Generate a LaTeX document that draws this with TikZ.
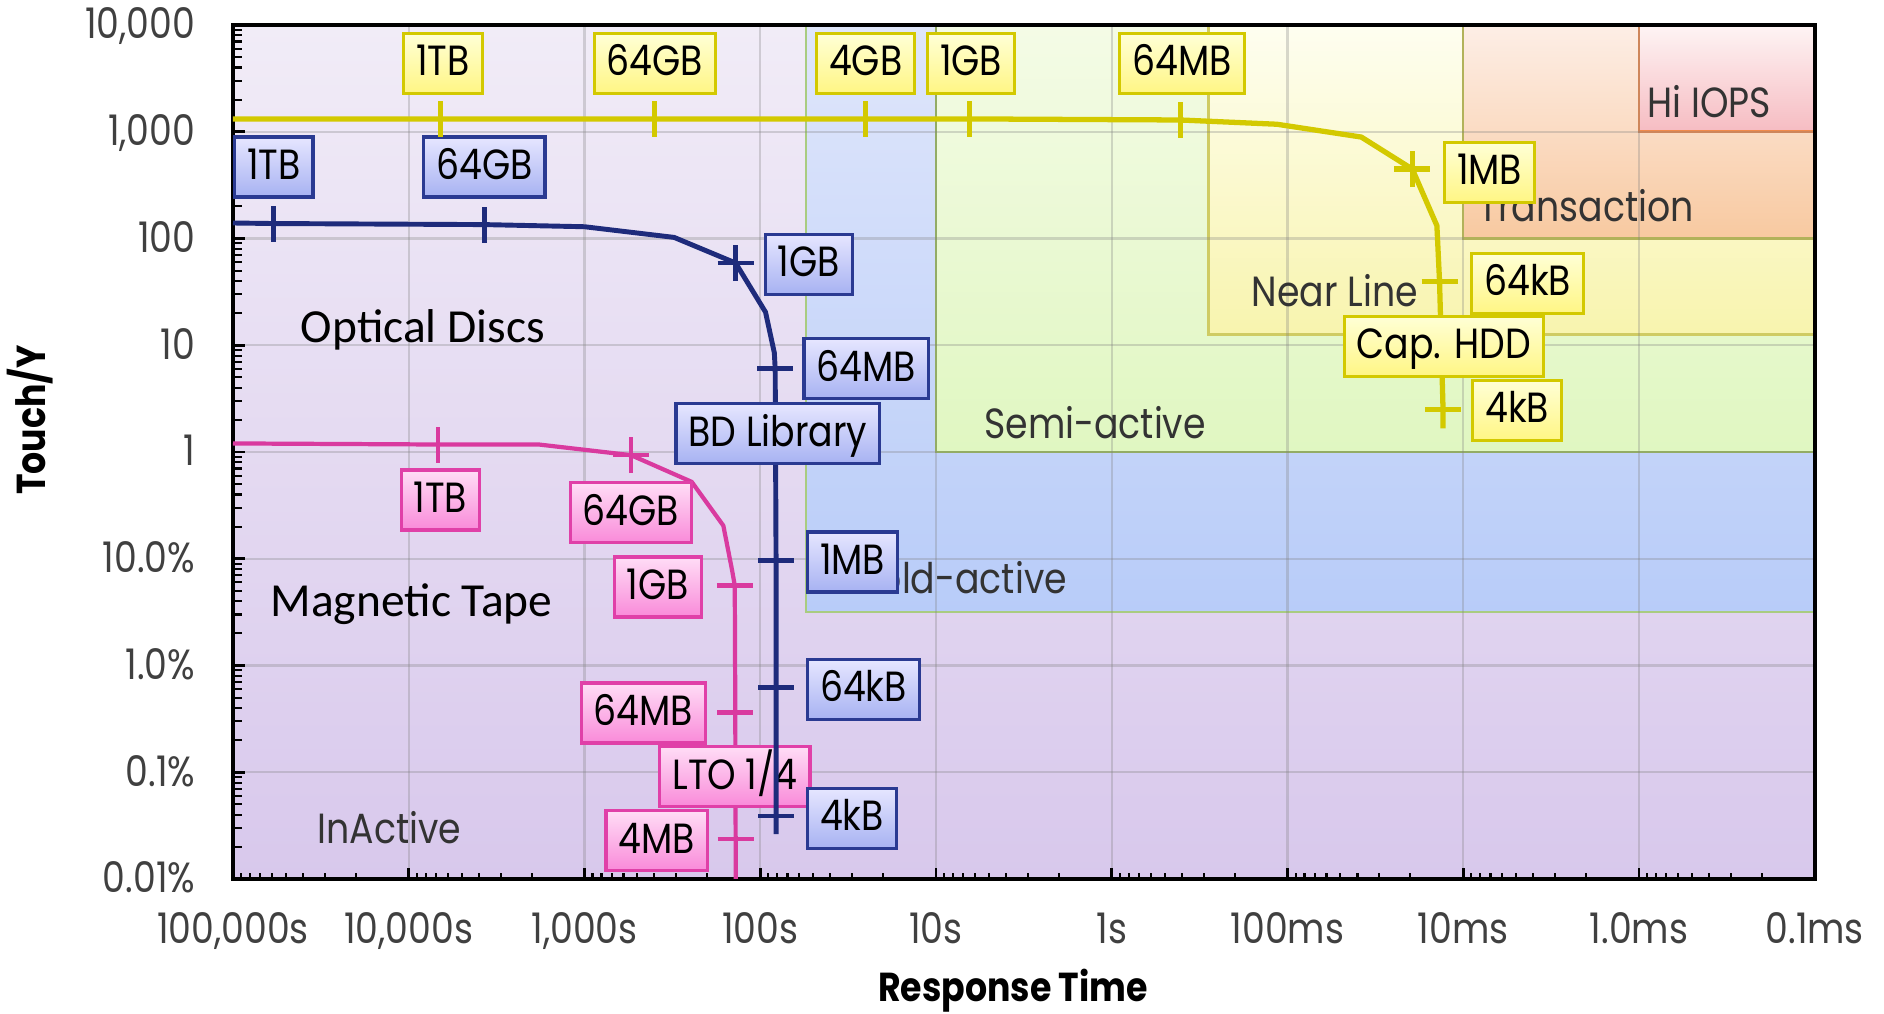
\documentclass[tikz,border=0pt]{standalone}
\usepackage{fontspec}
\setmainfont{Poppins}[FakeStretch=0.86]
\newfontfamily\mediafont{Carlito}
\usetikzlibrary{positioning}

\newcommand{\tagfont}{\fontsize{12}{14}\selectfont}
\newcommand{\zonefont}{\fontsize{12}{14}\selectfont}
\newcommand{\axisnumfont}{\fontsize{12}{14}\selectfont}

\definecolor{hddline}{HTML}{D3C900}
\definecolor{hddtop}{HTML}{FFFFD6}
\definecolor{hddbot}{HTML}{FFF684}
\definecolor{bdline}{HTML}{1E2B7B}
\definecolor{bdedge}{HTML}{2A3A92}
\definecolor{bdtop}{HTML}{E6E6FF}
\definecolor{bdbot}{HTML}{A7B2F2}
\definecolor{tapeline}{HTML}{D93A9F}
\definecolor{tapeedge}{HTML}{E040A8}
\definecolor{tapetop}{HTML}{FFDDF6}
\definecolor{tapebot}{HTML}{F98AD9}
\definecolor{inacttop}{HTML}{F1ECF7}
\definecolor{inactbot}{HTML}{D8C8EC}
\definecolor{coldtop}{HTML}{DFE6FA}
\definecolor{coldbot}{HTML}{B8CCF9}
\definecolor{coldedge}{HTML}{A9CC80}
\definecolor{semitop}{HTML}{F4FBE6}
\definecolor{semibot}{HTML}{E0F7C1}
\definecolor{semiedge}{HTML}{9CC05A}
\definecolor{neartop}{HTML}{FEFEF0}
\definecolor{nearbot}{HTML}{F8F4AE}
\definecolor{nearedge}{HTML}{CFCB63}
\definecolor{transtop}{HTML}{FDEEE6}
\definecolor{transbot}{HTML}{F8C9A0}
\definecolor{transedge}{HTML}{C9C94A}
\definecolor{iopstop}{HTML}{FEF4F4}
\definecolor{iopsbot}{HTML}{F6BCC2}
\definecolor{iopsedge}{HTML}{F08A4B}

\begin{document}
\begin{tikzpicture}[x=1.7575cm, y=1.0675cm,
  region/.style={line width=0.7pt},
  gridline/.style={draw=black!50, opacity=0.3, line width=0.6pt},
  zonelabel/.style={font=\zonefont, text=black!80, anchor=base},
  medialabel/.style={font=\mediafont\fontsize{13.5}{15}\selectfont, anchor=base},
  ticklabel/.style={font=\axisnumfont, text=black!75, text height=2.8mm, text depth=0pt, inner sep=0pt},
  tagbox/.style={rectangle, line width=0.9pt, font=\tagfont, text height=3.2mm, text depth=0.7mm, minimum height=6mm, inner xsep=1.25mm, inner ysep=0pt},
  hddbox/.style={tagbox, draw=hddline, top color=hddtop, bottom color=hddbot},
  bdbox/.style={tagbox, draw=bdedge, top color=bdtop, bottom color=bdbot},
  tapebox/.style={tagbox, draw=tapeedge, top color=tapetop, bottom color=tapebot},
  hddcurve/.style={draw=hddline, line width=1.5pt, line join=round},
  bdcurve/.style={draw=bdline, line width=1.4pt, line join=round},
  tapecurve/.style={draw=tapeline, line width=1.2pt, line join=round},
]

\fill[white] (-2.33cm,-1.35cm) rectangle (16.51cm,8.79cm);
\useasboundingbox (-2.33cm,-1.35cm) rectangle (16.51cm,8.79cm);

% zones
\fill[top color=inacttop, bottom color=inactbot] (0,0) rectangle (9,8);
\draw[region, draw=coldedge, top color=coldtop, bottom color=coldbot] (3.26,2.5) rectangle (9,8);
\draw[region, draw=semiedge, top color=semitop, bottom color=semibot] (4,4) rectangle (9,8);
\draw[region, draw=nearedge, top color=neartop, bottom color=nearbot] (5.55,5.1) rectangle (9,8);
\draw[region, draw=transedge, top color=transtop, bottom color=transbot] (7,6) rectangle (9,8);
\draw[region, draw=iopsedge, top color=iopstop, bottom color=iopsbot] (8,7) rectangle (9,8);

\foreach \i in {1,...,8} \draw[gridline] (\i,0) -- (\i,8);
\foreach \j in {1,...,7} \draw[gridline] (0,\j) -- (9,\j);

\node[zonelabel] (hiiops) at (8.40,7.13) {Hi IOPS};
\node[zonelabel] (trans) at (7.70,6.155) {Transaction};
\node[zonelabel] (nearline) at (6.27,5.36) {Near Line};
\node[zonelabel] (semiact) at (4.905,4.13) {Semi-active};
\node[zonelabel] (coldact) at (4.13,2.67) {Cold-active};
\node[zonelabel] (inact) at (0.89,0.337) {InActive};
\node[medialabel] (optical) at (1.08,5.03) {Optical Discs};
\node[medialabel] (magtape) at (1.016,2.46) {Magnetic Tape};

% axes
\draw[line width=1.1pt] (0,0) rectangle (9,8);
\foreach \j in {0,...,7} {
  \draw[line width=0.8pt] (0,\j) -- ++(0.12cm,0);
  \foreach \k in {2,...,9} \draw[line width=0.6pt] (0,{\j+log10(\k)}) -- ++(0.09cm,0);
}
\foreach \i in {0,...,8} {
  \draw[line width=0.8pt] (\i,0) -- ++(0,0.11cm);
  \foreach \k in {2,...,9} \draw[line width=0.6pt] ({\i+1-log10(\k)},0) -- ++(0,0.06cm);
}
\foreach \lab [count=\j from 0] in {0.01\%,0.1\%,1.0\%,10.0\%,1,10,100,{1,000},{10,000}}
  \node[ticklabel, anchor=east] (ylab\j) at ([xshift=-0.37cm]0,\j) {\lab};
\foreach \lab [count=\i from 0] in {{100,000s},{10,000s},{1,000s},100s,10s,1s,100ms,10ms,1.0ms,0.1ms}
  \node[ticklabel] (xlab\i) at ([yshift=-0.51cm]\i,0) {\lab};
\node[font=\fontsize{11.5}{13}\selectfont\bfseries, rotate=90] (ytitle) at (-2.03cm,4.59cm) {Touch/Y};
\node[font=\fontsize{11.5}{13}\selectfont\bfseries] (xtitle) at (7.80cm,-1.12cm) {Response Time};

% LTO tape
\coordinate (t1TB) at (1.166,4.07);
\coordinate (t64GB) at (2.265,3.97);
\coordinate (t1GB) at (2.855,2.75);
\coordinate (t64MB) at (2.858,1.56);
\coordinate (t4MB) at (2.86,0.375);
\draw[tapecurve] (0,4.08) -- (t1TB) -- (1.74,4.07) -- (t64GB) -- (2.61,3.72) -- (2.79,3.31) -- (2.84,2.89) -- (t1GB) -- (t64MB) -- (t4MB) -- (2.86,0);
\foreach \p in {t1TB,t64GB} \draw[tapecurve] (\p) ++(0,-0.18cm) -- ++(0,0.36cm);
\foreach \p in {t64GB,t1GB,t64MB,t4MB} \draw[tapecurve] (\p) ++(-0.18cm,0) -- ++(0.36cm,0);

\node[tapebox] (tape1TB) at (1.18,3.55) {1TB};
\node[tapebox] (tape64GB) at (2.265,3.43) {64GB};
\node[tapebox, anchor=east] (tape1GB) at (2.674,2.735) {1GB};
\node[tapebox, anchor=east] (tape64MB) at (2.697,1.555) {64MB};
\node[tapebox] (tapelto) at (2.856,0.96) {LTO 1/4};
\node[tapebox, anchor=east] (tape4MB) at (2.708,0.36) {4MB};

% BD library
\coordinate (b1TB) at (0.233,6.14);
\coordinate (b64GB) at (1.43,6.13);
\coordinate (b1GB) at (2.86,5.77);
\coordinate (b64MB) at (3.085,4.78);
\coordinate (b1MB) at (3.09,2.98);
\coordinate (b64kB) at (3.09,1.79);
\coordinate (b4kB) at (3.09,0.59);
\draw[bdcurve] (0,6.145) -- (b1TB) -- (b64GB) -- (2.00,6.11) -- (2.51,6.01) -- (b1GB) -- (3.03,5.31) -- (3.08,4.93) -- (b64MB) -- (b1MB) -- (b64kB) -- (b4kB) -- (3.09,0.42);
\foreach \p in {b1TB,b64GB,b1GB} \draw[bdcurve] (\p) ++(0,-0.18cm) -- ++(0,0.36cm);
\foreach \p in {b1GB,b64MB,b1MB,b64kB,b4kB} \draw[bdcurve] (\p) ++(-0.18cm,0) -- ++(0.36cm,0);

\node[bdbox, anchor=west] (bd1TB) at (0,6.67) {1TB};
\node[bdbox] (bd64GB) at (1.43,6.67) {64GB};
\node[bdbox, anchor=west] (bd1GB) at (3.02,5.76) {1GB};
\node[bdbox, anchor=west] (bd64MB) at (3.24,4.78) {64MB};
\node[bdbox] (bdlib) at (3.10,4.17) {BD Library};
\node[bdbox, anchor=west] (bd1MB) at (3.26,2.97) {1MB};
\node[bdbox, anchor=west] (bd64kB) at (3.26,1.775) {64kB};
\node[bdbox, anchor=west] (bd4kB) at (3.26,0.567) {4kB};

% capacity HDD
\coordinate (h1TB) at (1.18,7.12);
\coordinate (h64GB) at (2.40,7.12);
\coordinate (h4GB) at (3.60,7.12);
\coordinate (h1GB) at (4.19,7.12);
\coordinate (h64MB) at (5.39,7.11);
\coordinate (h1MB) at (6.71,6.65);
\coordinate (h64kB) at (6.865,5.60);
\coordinate (h4kB) at (6.885,4.40);
\draw[hddcurve] (0,7.12) -- (h1TB) -- (h64GB) -- (h4GB) -- (h1GB) -- (h64MB) -- (5.94,7.07) -- (6.42,6.95) -- (h1MB) -- (6.85,6.12) -- (h64kB) -- (h4kB) -- (6.885,4.22);
\foreach \p in {h1TB,h64GB,h4GB,h1GB,h64MB,h1MB} \draw[hddcurve] (\p) ++(0,-0.18cm) -- ++(0,0.36cm);
\foreach \p in {h1MB,h64kB,h4kB} \draw[hddcurve] (\p) ++(-0.18cm,0) -- ++(0.36cm,0);

\node[hddbox] (hdd1TB) at (1.195,7.64) {1TB};
\node[hddbox] (hdd64GB) at (2.40,7.64) {64GB};
\node[hddbox] (hdd4GB) at (3.60,7.64) {4GB};
\node[hddbox] (hdd1GB) at (4.20,7.64) {1GB};
\node[hddbox] (hdd64MB) at (5.40,7.64) {64MB};
\node[hddbox, anchor=west] (hdd1MB) at (6.885,6.62) {1MB};
\node[hddbox, anchor=west] (hdd64kB) at (7.04,5.58) {64kB};
\node[hddbox] (hddcap) at (6.89,4.99) {Cap. HDD};
\node[hddbox, anchor=west] (hdd4kB) at (7.045,4.39) {4kB};

\end{tikzpicture}
\end{document}
